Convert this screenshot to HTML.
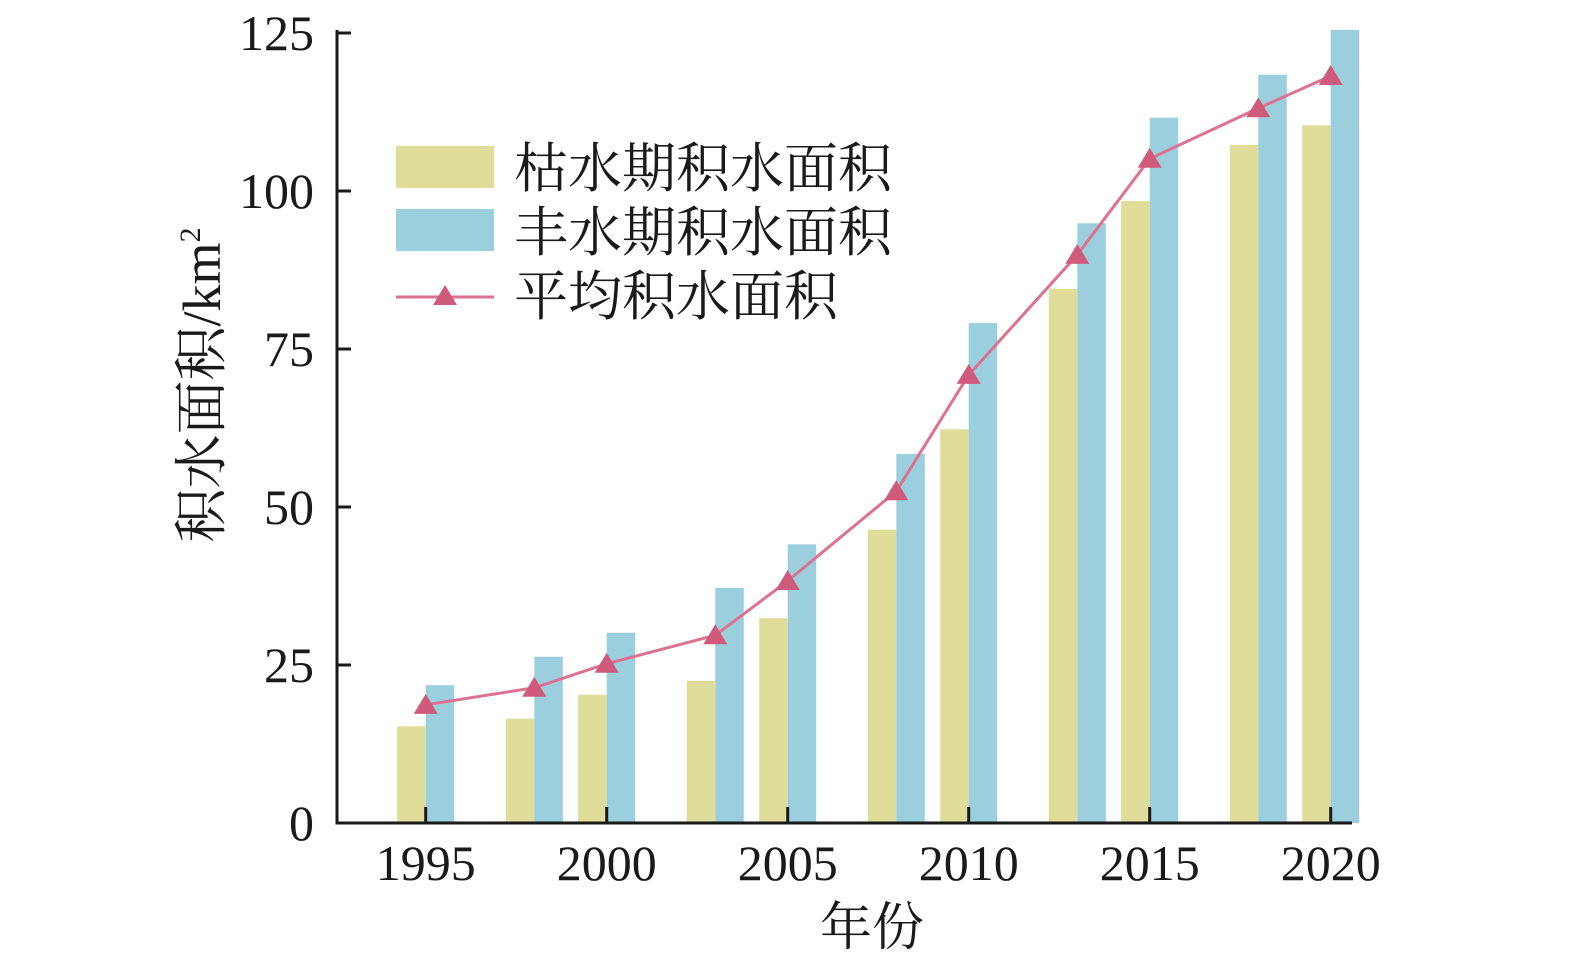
<!DOCTYPE html>
<html><head><meta charset="utf-8"><style>
html,body{margin:0;padding:0;background:#fff;}
svg text{font-family:"Liberation Serif","Noto Serif CJK SC",serif;fill:#1a1a1a;}
</style></head><body>
<svg id="chart" width="1575" height="958" viewBox="0 0 1575 958" xmlns="http://www.w3.org/2000/svg"></svg>
<script>
const years=[1995,1998,2000,2003,2005,2008,2010,2013,2015,2018,2020];
const dryValues=[15.3,16.5,20.3,22.5,32.4,46.4,62.3,84.5,98.4,107.3,110.4];
const wetValues=[21.8,26.3,30.1,37.2,44.1,58.4,79.1,94.9,111.6,118.4,125.5];
const avgValues=[18.7,21.4,25.2,29.7,38.3,52.5,70.9,89.9,105.1,113.1,118.2];
const yTicks=[0,25,50,75,100,125];
const xTicks=[1995,2000,2005,2010,2015,2020];
const NS="http://www.w3.org/2000/svg";
const svg=document.getElementById('chart');
const X0=337,Y0=823,X1=1352;
const xs=y=>425.7+(y-1995)*36.2;
const ys=v=>Y0-v*6.32;
function mk(t,a,p){const e=document.createElementNS(NS,t);for(const k in a)e.setAttribute(k,a[k]);(p||svg).appendChild(e);return e;}
const BW=28.5;
years.forEach((yr,i)=>{
  const d=mk('rect',{x:xs(yr)-BW,y:ys(dryValues[i]),width:BW,height:Y0-ys(dryValues[i]),fill:'#e0dc9a'});
  
  
  const w=mk('rect',{x:xs(yr),y:ys(wetValues[i]),width:BW,height:Y0-ys(wetValues[i]),fill:'#9ccfde'});
  
  
});
const pts=years.map((yr,i)=>xs(yr)+','+ys(avgValues[i])).join(' ');
const pl=mk('polyline',{points:pts,fill:'none',stroke:'#dd7290','stroke-width':3});


years.forEach((yr,i)=>{
  const cx=xs(yr),cy=ys(avgValues[i]);
  const t=mk('polygon',{points:`${cx},${cy-11} ${cx-12},${cy+9} ${cx+12},${cy+9}`,fill:'#d05a7c'});
  
  
});
const ax=mk('path',{d:`M${X0},${ys(125)-3}V${Y0}H${X1}`,fill:'none',stroke:'#1a1a1a','stroke-width':3});


yTicks.forEach(v=>{
  mk('line',{x1:X0,x2:X0+14,y1:ys(v),y2:ys(v),stroke:'#1a1a1a','stroke-width':3});
  const t=mk('text',{x:314,y:ys(v)+17,'text-anchor':'end','font-size':50});
  t.textContent=v;
  
  
});
xTicks.forEach(v=>{
  mk('line',{x1:xs(v),x2:xs(v),y1:Y0,y2:Y0-16,stroke:'#1a1a1a','stroke-width':3});
  const t=mk('text',{x:xs(v),y:880,'text-anchor':'middle','font-size':50});
  t.textContent=v;
  
  
});
const xt=mk('text',{x:872,y:945,'text-anchor':'middle','font-size':52});
xt.textContent='年份';


const yt=mk('text',{x:0,y:0,'text-anchor':'middle','font-size':54,transform:'translate(220,385) rotate(-90)'});
yt.innerHTML='积水面积/km<tspan font-size="30" dy="-20">2</tspan>';


const lg=mk('g',{});


mk('rect',{x:396,y:146,width:98,height:42,fill:'#e0dc9a'},lg);
mk('rect',{x:396,y:209,width:98,height:42,fill:'#9ccfde'},lg);
mk('line',{x1:396,x2:494,y1:297,y2:297,stroke:'#dd7290','stroke-width':3},lg);
mk('polygon',{points:'445,285 433,305 457,305',fill:'#d05a7c'},lg);
[['枯水期积水面积',187],['丰水期积水面积',251],['平均积水面积',315]].forEach(([s,y])=>{
  const t=mk('text',{x:514,y:y,'font-size':54},lg);
  t.textContent=s;
  
  
});
</script>
</body></html>
